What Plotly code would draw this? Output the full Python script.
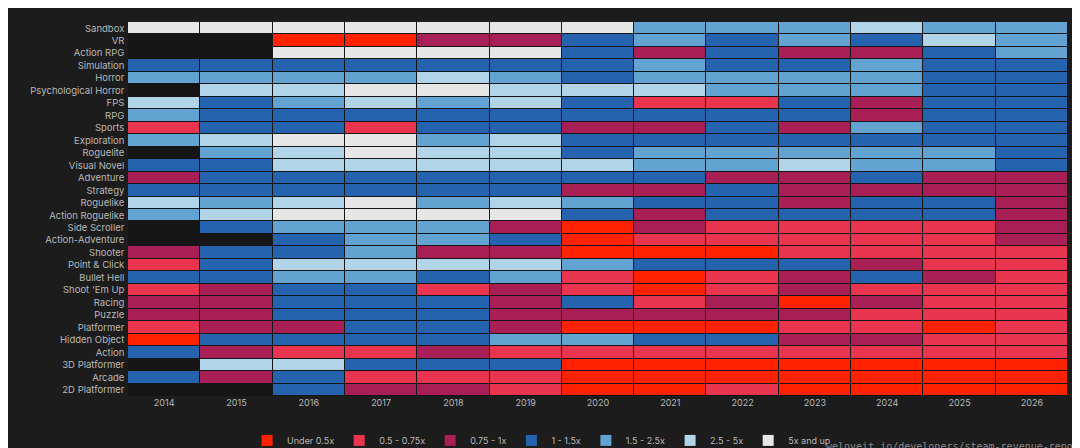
import plotly.graph_objects as go

years = [str(y) for y in range(2014, 2027)]
genres = ["Sandbox", "VR", "Action RPG", "Simulation", "Horror", "Psychological Horror",
          "FPS", "RPG", "Sports", "Exploration", "Roguelite", "Visual Novel", "Adventure",
          "Strategy", "Roguelike", "Action Roguelike", "Side Scroller", "Action-Adventure",
          "Shooter", "Point & Click", "Bullet Hell", "Shoot 'Em Up", "Racing", "Puzzle",
          "Platformer", "Hidden Object", "Action", "3D Platformer", "Arcade", "2D Platformer"]

bands = ["Under 0.5x", "0.5 - 0.75x", "0.75 - 1x", "1 - 1.5x", "1.5 - 2.5x", "2.5 - 5x", "5x and up"]
band_colors = ["#ff2200", "#e8344f", "#a81f56", "#2563ae", "#62a3d2", "#b1d4e8", "#e6e6e6"]

N = None
# band index per genre per year (None = no data)
cells = [
    [6, 6, 6, 6, 6, 6, 6, 4, 4, 4, 5, 4, 4],
    [N, N, 0, 0, 2, 2, 3, 4, 3, 4, 3, 5, 4],
    [N, N, 6, 6, 6, 6, 3, 2, 3, 2, 2, 3, 4],
    [3, 3, 3, 3, 3, 3, 3, 4, 3, 3, 4, 3, 3],
    [4, 4, 4, 4, 5, 4, 3, 4, 4, 4, 4, 3, 3],
    [N, 5, 5, 6, 6, 5, 5, 5, 4, 4, 4, 3, 3],
    [5, 3, 4, 5, 4, 5, 3, 1, 1, 3, 2, 3, 3],
    [4, 3, 3, 3, 3, 3, 3, 3, 3, 3, 2, 3, 3],
    [1, 3, 3, 1, 3, 3, 2, 2, 3, 2, 4, 3, 3],
    [4, 5, 6, 6, 4, 5, 3, 3, 3, 3, 3, 3, 3],
    [N, 4, 5, 6, 5, 5, 3, 4, 4, 4, 4, 4, 3],
    [3, 3, 5, 5, 5, 5, 5, 4, 4, 5, 4, 4, 3],
    [2, 3, 3, 3, 3, 3, 3, 3, 2, 2, 3, 2, 2],
    [3, 3, 3, 3, 3, 3, 2, 2, 3, 2, 2, 2, 2],
    [5, 4, 5, 6, 4, 5, 4, 3, 3, 2, 3, 3, 2],
    [4, 5, 6, 6, 6, 6, 3, 2, 3, 3, 3, 3, 2],
    [N, 3, 4, 4, 4, 2, 0, 2, 1, 1, 1, 1, 2],
    [N, N, 3, 4, 4, 3, 0, 1, 1, 1, 1, 1, 2],
    [2, 3, 3, 4, 2, 2, 0, 0, 0, 1, 1, 1, 1],
    [1, 3, 5, 5, 5, 5, 4, 3, 3, 3, 2, 1, 1],
    [3, 3, 4, 4, 3, 4, 1, 0, 1, 2, 3, 2, 1],
    [1, 2, 3, 3, 1, 2, 1, 0, 1, 2, 1, 1, 1],
    [2, 2, 3, 3, 3, 2, 3, 1, 2, 0, 2, 1, 1],
    [2, 2, 3, 3, 3, 2, 2, 2, 2, 2, 1, 1, 1],
    [1, 2, 2, 3, 3, 2, 0, 0, 0, 1, 1, 0, 1],
    [0, 3, 3, 3, 3, 4, 4, 3, 3, 2, 2, 1, 1],
    [3, 2, 1, 1, 2, 1, 1, 1, 1, 1, 1, 1, 1],
    [N, 5, 5, 3, 3, 3, 0, 0, 0, 0, 0, 0, 0],
    [3, 2, 3, 1, 1, 1, 0, 0, 0, 0, 0, 0, 0],
    [N, N, 3, 2, 2, 1, 0, 0, 1, 0, 0, 0, 0],
]

# stepped colorscale so each band index gets one flat colour
n = len(band_colors)
scale = []
for i, c in enumerate(band_colors):
    scale.append([i / n, c])
    scale.append([(i + 1) / n, c])

fig = go.Figure()
fig.add_trace(go.Heatmap(
    z=cells, x=years, y=genres,
    zmin=-0.5, zmax=n - 0.5,
    colorscale=scale, showscale=False,
    xgap=1, ygap=1, hoverongaps=False,
))

# legend entries
for name, col in zip(bands, band_colors):
    fig.add_trace(go.Scatter(
        x=[None], y=[None], mode="markers", name=name,
        marker=dict(symbol="square", size=11, color=col),
    ))

fig.add_annotation(
    text="weloveit.io/developers/steam-revenue-report",
    xref="paper", yref="paper", x=1.02, y=-0.135, xanchor="right", yanchor="middle",
    showarrow=False, font=dict(family="DejaVu Sans Mono", size=10, color="#8a8a8a"),
)

fig.update_layout(
    width=1080, height=448,
    margin=dict(l=120, r=20, t=14, b=60, autoexpand=False),
    paper_bgcolor="#1c1c1c", plot_bgcolor="#151515",
    font=dict(family="Inter", size=9, color="#b8b8b8"),
    xaxis=dict(showgrid=False, zeroline=False, ticks="", tickfont=dict(size=9)),
    yaxis=dict(showgrid=False, zeroline=False, autorange="reversed", ticks="",
               ticksuffix=" ", tickfont=dict(size=9.5)),
    legend=dict(orientation="h", x=0.44, xanchor="center", y=-0.08, yanchor="top",
                font=dict(size=9, color="#b8b8b8"), itemwidth=30, tracegroupgap=0),
    showlegend=True,
)

fig.write_html("out.html")
